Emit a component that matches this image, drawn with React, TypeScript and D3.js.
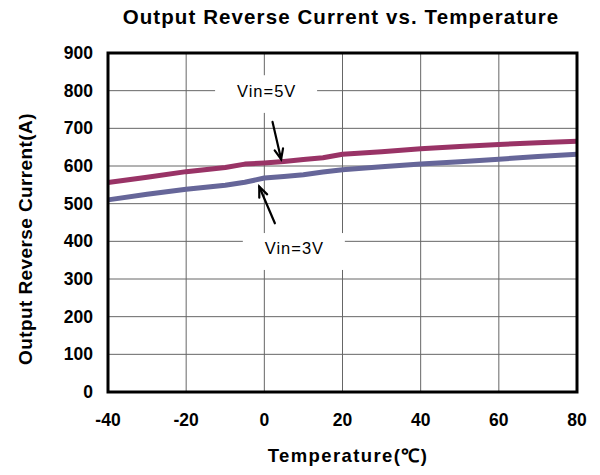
import React from "react";
import * as d3 from "d3";

const temps = [-40, -30, -20, -10, -5, 0, 5, 10, 15, 20, 30, 40, 50, 60, 70, 80];
const vin5 = [556, 570, 585, 596, 605, 608, 612, 617, 622, 631, 638, 646, 652, 657, 662, 666];
const vin3 = [510, 525, 538, 549, 557, 568, 572, 577, 584, 590, 598, 605, 611, 618, 625, 631];
const xTicks = [-40, -20, 0, 20, 40, 60, 80];
const yTicks = [0, 100, 200, 300, 400, 500, 600, 700, 800, 900];

const title = "Output Reverse Current vs. Temperature";
const xTitle = "Temperature(℃)";
const yTitle = "Output Reverse Current(A)";

const W = 600, H = 475;
const L = 108, R = 577, T = 53, B = 392;
const FONT = "'Liberation Sans', Arial, sans-serif";

export default function App() {
  const x = d3.scaleLinear().domain([-40, 80]).range([L, R]);
  const y = d3.scaleLinear().domain([0, 900]).range([B, T]);
  const line = d3
    .line<number>()
    .x((_, i) => x(temps[i]))
    .y((d) => y(d));

  const arrow = (x1: number, y1: number, x2: number, y2: number) => {
    const px1 = x(x1), py1 = y(y1), px2 = x(x2), py2 = y(y2);
    const a = Math.atan2(py2 - py1, px2 - px1);
    const h = 11, s = 0.4;
    const ax = px2 - h * Math.cos(a - s), ay = py2 - h * Math.sin(a - s);
    const bx = px2 - h * Math.cos(a + s), by = py2 - h * Math.sin(a + s);
    return (
      <g stroke="#000" strokeWidth={2.2} fill="none" strokeLinecap="round">
        <line x1={px1} y1={py1} x2={px2} y2={py2} />
        <path d={`M${ax},${ay}L${px2},${py2}L${bx},${by}`} />
      </g>
    );
  };

  return (
    <svg width={W} height={H} style={{ position: "absolute", left: 0, top: 0, background: "#fff" }}>
      <rect width={W} height={H} fill="#fff" />
      <text x={341} y={24} textAnchor="middle" fontFamily={FONT} fontWeight="bold" fontSize={20.5} letterSpacing={1.1} fill="#000">
        {title}
      </text>
      {/* grid */}
      <g stroke="#666" strokeWidth={1}>
        {yTicks.slice(1, -1).map((t) => (
          <line key={"gy" + t} x1={L} x2={R} y1={y(t)} y2={y(t)} />
        ))}
        {xTicks.slice(1, -1).map((t) => (
          <line key={"gx" + t} x1={x(t)} x2={x(t)} y1={T} y2={B} />
        ))}
      </g>
      {/* label boxes */}
      <rect x={x(-12.6)} y={y(841)} width={x(13.5) - x(-12.6)} height={y(741) - y(841)} fill="#fff" />
      <rect x={x(-5.5)} y={y(422)} width={x(20.6) - x(-5.5)} height={y(324) - y(422)} fill="#fff" />
      {/* series */}
      <path d={line(vin5) || ""} fill="none" stroke="#993366" strokeWidth={5} strokeLinejoin="round" />
      <path d={line(vin3) || ""} fill="none" stroke="#666699" strokeWidth={5} strokeLinejoin="round" />
      {/* frame */}
      <rect x={L} y={T} width={R - L} height={B - T} fill="none" stroke="#000" strokeWidth={3} />
      {/* annotations */}
      <text x={x(0.6)} y={y(783)} textAnchor="middle" fontFamily={FONT} fontSize={16.5} letterSpacing={1} fill="#000">
        Vin=5V
      </text>
      <text x={x(7.7)} y={y(366)} textAnchor="middle" fontFamily={FONT} fontSize={16.5} letterSpacing={1} fill="#000">
        Vin=3V
      </text>
      {arrow(2.1, 717, 4.3, 618)}
      {arrow(2.7, 448, -1.3, 545)}
      {/* y ticks */}
      {yTicks.map((t) => (
        <text key={"yt" + t} x={93} y={y(t)} dy="0.35em" textAnchor="end" fontFamily={FONT} fontWeight="bold" fontSize={17.5} fill="#000">
          {t}
        </text>
      ))}
      {xTicks.map((t) => (
        <text key={"xt" + t} x={x(t)} y={420} dy="0.35em" textAnchor="middle" fontFamily={FONT} fontWeight="bold" fontSize={17.5} fill="#000">
          {t}
        </text>
      ))}
      <text x={348} y={462} textAnchor="middle" fontFamily={FONT} fontWeight="bold" fontSize={18.5} letterSpacing={1.4} fill="#000">
        {xTitle}
      </text>
      <text transform={`translate(32,239) rotate(-90)`} textAnchor="middle" fontFamily={FONT} fontWeight="bold" fontSize={19} letterSpacing={0.4} fill="#000">
        {yTitle}
      </text>
    </svg>
  );
}
